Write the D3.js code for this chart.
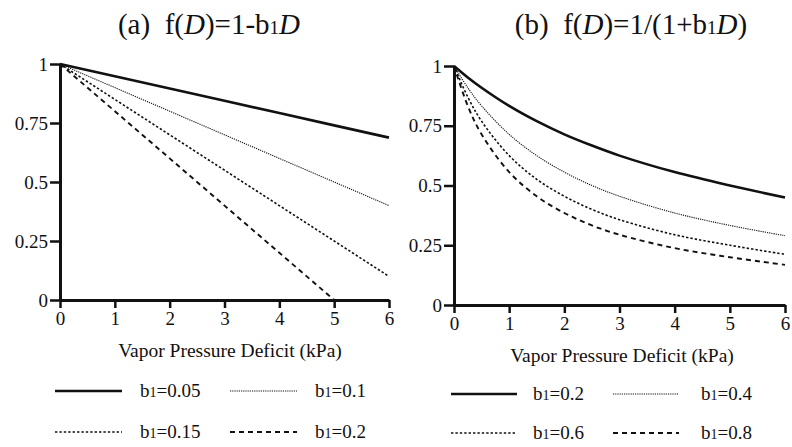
<!DOCTYPE html>
<html>
<head>
<meta charset="utf-8">
<script src="https://cdn.jsdelivr.net/npm/d3@7"></script>
<style>
  body { margin: 0; background: #fff; }
  svg text { font-family: "Liberation Serif", "Times New Roman", serif; fill: #111; white-space: pre; }
</style>
</head>
<body>
<div id="d3"></div>
<script>
// vapor pressure deficit (kPa)
const d_lin = [0, 1, 2, 3, 4, 5, 6];
const d_hyp = [0, 0.25, 0.5, 1, 1.5, 2, 2.5, 3, 4, 5, 6];

// panel (a) values
const a_b005 = [1, 0.948, 0.896, 0.844, 0.792, 0.740, 0.688];
const a_b010 = [1, 0.90, 0.80, 0.70, 0.60, 0.50, 0.40];
const a_b015 = [1, 0.85, 0.70, 0.55, 0.40, 0.25, 0.10];
const a_b020 = [1, 0.80, 0.60, 0.40, 0.20, 0.00, null];

// panel (b) values
const b_b02 = [1, 0.952, 0.909, 0.833, 0.769, 0.714, 0.667, 0.625, 0.556, 0.500, 0.450];
const b_b04 = [1, 0.909, 0.833, 0.714, 0.625, 0.556, 0.500, 0.455, 0.385, 0.333, 0.290];
const b_b06 = [1, 0.870, 0.769, 0.625, 0.526, 0.455, 0.400, 0.357, 0.294, 0.250, 0.212];
const b_b08 = [1, 0.833, 0.714, 0.556, 0.455, 0.385, 0.333, 0.294, 0.238, 0.200, 0.168];

const x_ticks = [0, 1, 2, 3, 4, 5, 6];
const y_ticks = [0, 0.25, 0.5, 0.75, 1];
const y_tick_labels = ["0", "0.25", "0.5", "0.75", "1"];

const labels_a = ["0.05", "0.1", "0.15", "0.2"];
const labels_b = ["0.2", "0.4", "0.6", "0.8"];

const serif = "'Liberation Serif', 'Times New Roman', serif";

// line styles: solid, fine dotted, dotted, dashed
const styles = [
  { width: 2.6, dash: null },
  { width: 1.1, dash: "1.2,1" },
  { width: 1.6, dash: "2.4,2" },
  { width: 1.9, dash: "5,4" }
];

const canvas = d3.select("#d3").append("svg")
  .attr("width", 792)
  .attr("height", 447);

function panel(opt) {
  const x = d3.scaleLinear().domain([0, 6]).range([opt.x0, opt.x1]);
  const y = d3.scaleLinear().domain([0, 1]).range([opt.y0, opt.y1]);
  const g = canvas.append("g");

  // title
  const t = g.append("text")
    .attr("x", opt.titleX)
    .attr("y", 34)
    .attr("text-anchor", "middle")
    .style("font-size", "29px");
  opt.title.forEach(function(p) {
    const s = t.append("tspan").text(p.t);
    if (p.i) s.style("font-style", "italic");
    if (p.s) s.style("font-size", "19px");
  });

  // curves
  const line = d3.line()
    .defined(function(d) { return d[1] != null; })
    .x(function(d) { return x(d[0]); })
    .y(function(d) { return y(d[1]); })
    .curve(opt.curve);

  opt.series.forEach(function(vals, i) {
    g.append("path")
      .datum(opt.xs.map(function(d, j) { return [d, vals[j]]; }))
      .attr("fill", "none")
      .attr("stroke", "#111")
      .attr("stroke-width", styles[i].width)
      .attr("stroke-dasharray", styles[i].dash)
      .attr("d", line);
  });

  // axes
  const xAxis = g.append("g")
    .attr("transform", "translate(0," + opt.y0 + ")")
    .call(d3.axisBottom(x).tickValues(x_ticks).tickSize(8).tickSizeOuter(0).tickPadding(4)
      .tickFormat(d3.format("d")));
  const yAxis = g.append("g")
    .attr("transform", "translate(" + opt.x0 + ",0)")
    .call(d3.axisLeft(y).tickValues(y_ticks).tickSize(10).tickSizeOuter(0).tickPadding(2)
      .tickFormat(function(d, i) { return y_tick_labels[i]; }));

  [xAxis, yAxis].forEach(function(a) {
    a.attr("font-family", serif).attr("font-size", 19);
    a.select(".domain").attr("stroke", "#111").attr("stroke-width", 3);
    a.selectAll(".tick line").attr("stroke", "#111").attr("stroke-width", 2.5);
    a.selectAll(".tick text")
      .style("font-family", serif)
      .style("font-size", "19px")
      .attr("fill", "#111");
  });

  // x label
  g.append("text")
    .attr("x", opt.labelX)
    .attr("y", opt.y0 + 57)
    .attr("text-anchor", "middle")
    .style("font-size", "19.5px")
    .text("Vapor Pressure Deficit (kPa)");

  // legend
  opt.labels.forEach(function(lab, i) {
    const col = i % 2, row = Math.floor(i / 2);
    const lx = opt.legX[col], ly = opt.legY[row];
    g.append("line")
      .attr("x1", lx).attr("x2", lx + opt.legLen)
      .attr("y1", ly).attr("y2", ly)
      .attr("stroke", "#111")
      .attr("stroke-width", styles[i].width)
      .attr("stroke-dasharray", styles[i].dash);
    const tx = g.append("text")
      .attr("x", opt.legText[col])
      .attr("y", ly + 6)
      .style("font-size", "19px");
    tx.append("tspan").text("b");
    tx.append("tspan").text("1").style("font-size", "14px");
    tx.append("tspan").text("=" + lab);
  });
}

panel({
  x0: 60, x1: 389, y0: 300, y1: 64,
  xs: d_lin,
  series: [a_b005, a_b010, a_b015, a_b020],
  curve: d3.curveLinear,
  titleX: 209,
  title: [{ t: "(a)  f(" }, { t: "D", i: true }, { t: ")=1-b" }, { t: "1", s: true }, { t: "D", i: true }],
  labelX: 230,
  labels: labels_a,
  legX: [55, 230], legY: [391, 432], legLen: 67,
  legText: [140, 315]
});

panel({
  x0: 454, x1: 785, y0: 305, y1: 66,
  xs: d_hyp,
  series: [b_b02, b_b04, b_b06, b_b08],
  curve: d3.curveCatmullRom,
  titleX: 631,
  title: [{ t: "(b)  f(" }, { t: "D", i: true }, { t: ")=1/(1+b" }, { t: "1", s: true }, { t: "D", i: true }, { t: ")" }],
  labelX: 622,
  labels: labels_b,
  legX: [451, 613], legY: [394, 433], legLen: 66,
  legText: [533, 701]
});
</script>
</body>
</html>
